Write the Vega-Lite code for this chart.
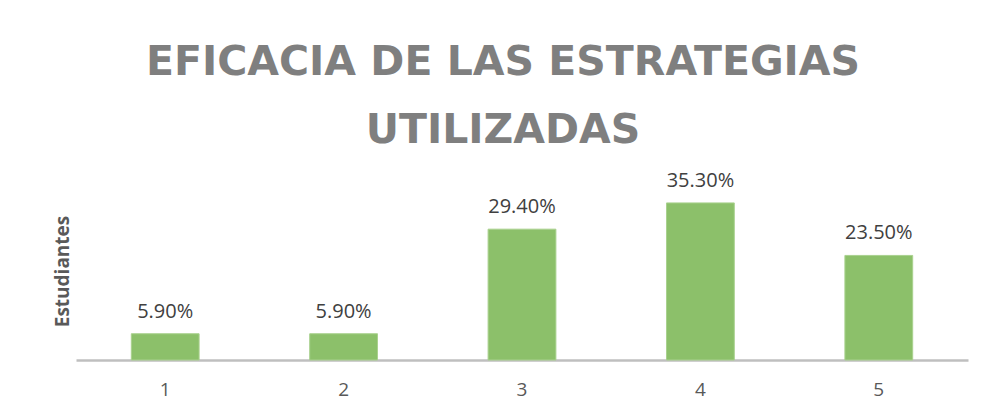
{
  "$schema": "https://vega.github.io/schema/vega-lite/v6.json",
  "width": 892,
  "height": 178,
  "autosize": {"type": "none"},
  "padding": {"left": 76, "top": 182, "right": 16, "bottom": 56},
  "background": "white",
  "title": {
    "text": ["EFICACIA DE LAS ESTRATEGIAS", "UTILIZADAS"],
    "font": "DejaVu Sans",
    "fontSize": 41,
    "fontWeight": "bold",
    "color": "#7F7F7F",
    "lineHeight": 68,
    "anchor": "middle",
    "frame": "group",
    "offset": 19,
    "dx": -19
  },
  "data": {
    "values": [
      {"grupo": "1", "valor": 5.9, "etiqueta": "5.90%"},
      {"grupo": "2", "valor": 5.9, "etiqueta": "5.90%"},
      {"grupo": "3", "valor": 29.4, "etiqueta": "29.40%"},
      {"grupo": "4", "valor": 35.3, "etiqueta": "35.30%"},
      {"grupo": "5", "valor": 23.5, "etiqueta": "23.50%"}
    ]
  },
  "encoding": {
    "x": {
      "field": "grupo",
      "type": "ordinal",
      "scale": {"paddingInner": 0.62, "paddingOuter": 0.31},
      "axis": {
        "title": null,
        "labelAngle": 0,
        "labelFont": "Open Sans",
        "labelFontSize": 19,
        "labelColor": "#595959",
        "labelPadding": 20,
        "ticks": false,
        "domainColor": "#BFBFBF",
        "domainWidth": 2.5,
        "grid": false
      }
    },
    "y": {
      "field": "valor",
      "type": "quantitative",
      "scale": {"domain": [0, 40]},
      "axis": {
        "title": "Estudiantes",
        "titleFont": "Open Sans",
        "titleFontSize": 19,
        "titleFontWeight": "bold",
        "titleColor": "#595959",
        "titlePadding": 4,
        "labels": false,
        "ticks": false,
        "domain": false,
        "grid": false
      }
    }
  },
  "layer": [
    {
      "mark": {"type": "bar", "color": "#8CC06A", "stroke": "#A9D18E", "strokeWidth": 1}
    },
    {
      "mark": {"type": "text", "baseline": "bottom", "dy": -12, "font": "Open Sans", "fontSize": 20, "color": "#404040"},
      "encoding": {"text": {"field": "etiqueta"}}
    }
  ],
  "config": {"view": {"stroke": null}}
}
